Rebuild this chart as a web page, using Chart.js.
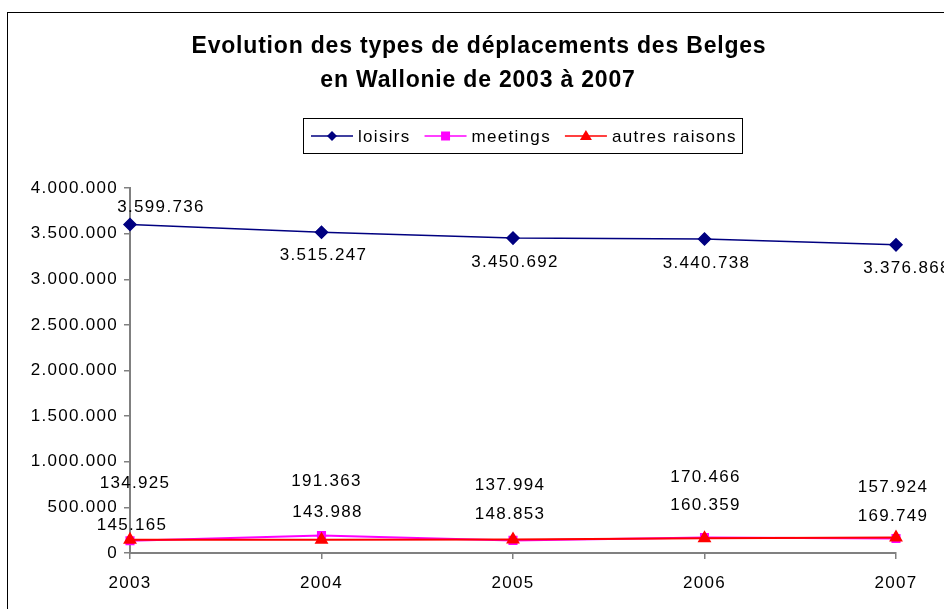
<!DOCTYPE html>
<html>
<head>
<meta charset="utf-8">
<script src="https://cdn.jsdelivr.net/npm/chart.js@4"></script>
<style>
  html, body { margin: 0; padding: 0; background: #fff; }
  #wrap { width: 944px; height: 609px; }
</style>
</head>
<body>
<div id="wrap"><canvas id="chart" width="944" height="609"></canvas></div>
<script>
const years = ['2003', '2004', '2005', '2006', '2007'];
const loisirs = [3599736, 3515247, 3450692, 3440738, 3376868];
const meetings = [134925, 191363, 137994, 170466, 157924];
const autresRaisons = [145165, 143988, 148853, 160359, 169749];
const yTicks = [0, 500000, 1000000, 1500000, 2000000, 2500000, 3000000, 3500000, 4000000];
const titleLines = ['Evolution des types de déplacements des Belges', 'en Wallonie de 2003 à 2007'];

const FONT = '"Liberation Sans", Arial, sans-serif';

function fmt(v) {
    return String(v).replace(/\B(?=(\d{3})+(?!\d))/g, '.');
}

// frame, title, boxed legend and value labels, drawn the Excel way
const decor = {
    id: 'decor',
    beforeDraw(chart) {
        const ctx = chart.ctx;
        ctx.letterSpacing = '1.3px';
        ctx.save();
        ctx.fillStyle = '#fff';
        ctx.fillRect(0, 0, chart.width, chart.height);
        ctx.strokeStyle = '#000';
        ctx.lineWidth = 1;
        ctx.strokeRect(7.5, 12.5, 1200, 1200);

        ctx.fillStyle = '#000';
        ctx.textAlign = 'center';
        ctx.textBaseline = 'middle';
        ctx.letterSpacing = '0.8px';
        ctx.font = 'bold 23px ' + FONT;
        ctx.fillText(titleLines[0], 479, 47);
        ctx.fillText(titleLines[1], 478, 81);
        ctx.letterSpacing = '1.3px';

        // legend
        ctx.strokeRect(303.5, 118.5, 439, 35);
        ctx.font = '17px ' + FONT;
        ctx.textAlign = 'left';
        let x = 311;
        const ly = 136;
        chart.data.datasets.forEach(ds => {
            ctx.strokeStyle = ds.borderColor;
            ctx.lineWidth = 1.5;
            ctx.beginPath();
            ctx.moveTo(x, ly);
            ctx.lineTo(x + 42, ly);
            ctx.stroke();
            drawMarker(ctx, ds.pointStyle, x + 21, ly, 5, ds.borderColor);
            ctx.fillStyle = '#000';
            ctx.fillText(ds.label, x + 47, ly + 1);
            x += 47 + ctx.measureText(ds.label).width + 14;
        });
        ctx.restore();
    },
    afterDatasetsDraw(chart, args, opts) {
        const ctx = chart.ctx;
        ctx.save();
        ctx.font = '17px ' + FONT;
        ctx.fillStyle = '#000';
        ctx.textAlign = 'center';
        ctx.textBaseline = 'middle';
        chart.data.datasets.forEach((ds, i) => {
            const meta = chart.getDatasetMeta(i);
            const off = opts.offsets[i];
            meta.data.forEach((pt, j) => {
                ctx.fillText(fmt(ds.data[j]), pt.x + off.dx[j], pt.y + off.dy[j]);
            });
        });
        ctx.restore();
    }
};

function drawMarker(ctx, style, x, y, r, color) {
    ctx.fillStyle = color;
    ctx.beginPath();
    if (style === 'rectRot') {
        ctx.moveTo(x, y - r); ctx.lineTo(x + r, y); ctx.lineTo(x, y + r); ctx.lineTo(x - r, y);
    } else if (style === 'rect') {
        ctx.rect(x - r + 0.5, y - r + 0.5, 2 * r - 1, 2 * r - 1);
    } else {
        ctx.moveTo(x, y - r - 1); ctx.lineTo(x + r + 1, y + r - 1); ctx.lineTo(x - r - 1, y + r - 1);
    }
    ctx.closePath();
    ctx.fill();
}

new Chart(document.getElementById('chart'), {
    type: 'line',
    data: {
        labels: years,
        datasets: [
            {
                label: 'loisirs', data: loisirs, order: 2,
                borderColor: '#000080', backgroundColor: '#000080',
                borderWidth: 1.5, pointStyle: 'rectRot', pointRadius: 6, tension: 0
            },
            {
                label: 'meetings', data: meetings, order: 1,
                borderColor: '#FF00FF', backgroundColor: '#FF00FF',
                borderWidth: 2, pointStyle: 'rect', pointRadius: 5, tension: 0
            },
            {
                label: 'autres raisons', data: autresRaisons, order: 0,
                borderColor: '#FF0000', backgroundColor: '#FF0000',
                borderWidth: 2, pointStyle: 'triangle', pointRadius: 6, tension: 0
            }
        ]
    },
    options: {
        responsive: false,
        animation: false,
        events: [],
        layout: { padding: { left: 0, top: 188, right: 48, bottom: 0 } },
        plugins: {
            legend: { display: false },
            title: { display: false },
            tooltip: { enabled: false },
            decor: {
                offsets: [
                    { dx: [31, 2, 2, 2, 11], dy: [-17, 23, 24, 24, 23] },
                    { dx: [5, 5, -3, 1, -3], dy: [-57, -54, -55, -60, -51] },
                    { dx: [2, 6, -3, 1, -3], dy: [-14, -28, -25, -33, -21] }
                ]
            }
        },
        scales: {
            x: {
                offset: false,
                grid: { display: true, drawOnChartArea: false, drawTicks: true, tickLength: 6, color: '#808080', lineWidth: 1.5 },
                border: { color: '#808080', width: 2 },
                ticks: { color: '#000', font: { family: FONT, size: 17 }, padding: 14, maxRotation: 0 },
                afterFit(scale) { scale.height = 56; }
            },
            y: {
                min: 0, max: 4000000,
                afterBuildTicks(scale) { scale.ticks = yTicks.map(v => ({ value: v })); },
                grid: { display: true, drawOnChartArea: false, drawTicks: true, tickLength: 6, color: '#808080', lineWidth: 1.5 },
                border: { color: '#808080', width: 2 },
                ticks: { color: '#000', font: { family: FONT, size: 17 }, padding: 6, callback: v => fmt(v) },
                afterFit(scale) { scale.width = 130; }
            }
        }
    },
    plugins: [decor]
});
</script>
</body>
</html>
